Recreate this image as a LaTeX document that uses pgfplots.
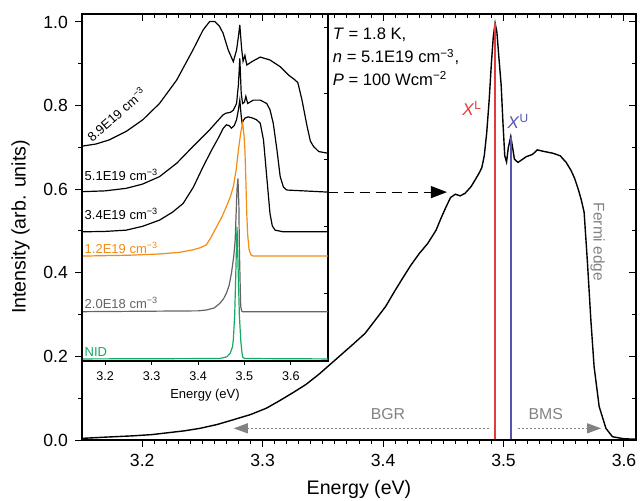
\documentclass[border=0pt]{standalone}
\usepackage{pgfplots}
\pgfplotsset{compat=1.18}
\usepackage{fontspec}
\setmainfont{Liberation Sans}
\usetikzlibrary{arrows.meta}

\definecolor{cred}{RGB}{225,60,60}
\definecolor{cblue}{RGB}{85,85,175}
\definecolor{corange}{RGB}{242,140,20}
\definecolor{cgreen}{RGB}{20,170,100}
\definecolor{cdgray}{RGB}{100,100,100}
\definecolor{cgray}{RGB}{130,130,130}

\pgfplotsset{
  frame/.style={
    scale only axis,
    axis line style={line width=0.6pt},
    tick style={line width=0.5pt, black},
    /pgf/number format/assume math mode=true,
  },
}

\begin{document}
\begin{tikzpicture}
% main spectrum
\begin{axis}[
  frame, name=main,
  width=277pt, height=213pt,
  xmin=3.15, xmax=3.61, ymin=0, ymax=1.019,
  xtick={3.2,3.3,3.4,3.5,3.6}, minor x tick num=9,
  ytick={0,0.2,0.4,0.6,0.8,1.0}, minor y tick num=1,
  xtick pos=left, ytick pos=left, tick align=outside,
  major tick length=3.5pt, minor tick length=1.8pt,
  xticklabel style={/pgf/number format/.cd, fixed, fixed zerofill, precision=1},
  yticklabel style={/pgf/number format/.cd, fixed, fixed zerofill, precision=1},
  ticklabel style={font=\fontsize{8.8}{10}\selectfont},
  label style={font=\fontsize{9.8}{11}\selectfont},
  xlabel={Energy (eV)}, ylabel={Intensity (arb. units)},
]
\addplot[black, line width=0.7pt] coordinates {
(3.150,0.004)(3.170,0.007)(3.192,0.010)(3.208,0.013)(3.220,0.017)(3.235,0.022)
(3.248,0.028)(3.262,0.037)(3.275,0.048)(3.290,0.061)(3.303,0.076)(3.314,0.094)
(3.325,0.113)(3.336,0.133)(3.347,0.158)(3.362,0.196)(3.375,0.229)(3.385,0.255)
(3.393,0.285)(3.402,0.319)(3.410,0.358)(3.416,0.386)(3.423,0.418)(3.430,0.446)
(3.437,0.470)(3.444,0.502)(3.448,0.530)(3.452,0.556)(3.456,0.580)(3.460,0.588)
(3.464,0.584)(3.468,0.590)(3.473,0.606)(3.477,0.625)(3.480,0.640)(3.482,0.652)
(3.484,0.680)(3.486,0.734)(3.488,0.810)(3.490,0.905)(3.4915,0.965)(3.493,0.997)
(3.4945,0.975)(3.496,0.920)(3.498,0.850)(3.4995,0.760)(3.501,0.680)(3.5025,0.665)
(3.504,0.700)(3.506,0.726)(3.5075,0.700)(3.509,0.672)(3.512,0.664)(3.516,0.672)
(3.519,0.678)(3.524,0.683)(3.528,0.694)(3.534,0.690)(3.541,0.686)(3.547,0.680)
(3.552,0.664)(3.556,0.645)(3.559,0.626)(3.562,0.600)(3.5645,0.575)(3.5669,0.545)
(3.5697,0.423)(3.5725,0.287)(3.5752,0.175)(3.5794,0.080)(3.585,0.028)(3.5904,0.008)
(3.600,0.003)(3.610,0.002)
};
\addplot[cred, line width=0.7pt] coordinates {(3.4929,0)(3.4929,0.997)};
\addplot[cblue, line width=0.7pt] coordinates {(3.5061,0)(3.5061,0.726)};

\node[cred, font=\fontsize{8.5}{10}\selectfont] at (axis cs:3.474,0.793) {\textit{X}\textsuperscript{L}};
\node[cblue, font=\fontsize{8.5}{10}\selectfont] at (axis cs:3.5124,0.762) {\textit{X}\textsuperscript{U}};
\node[anchor=west, font=\fontsize{8.3}{10}\selectfont, inner sep=0pt] at (axis cs:3.358,0.969) {\textit{T} = 1.8 K,};
\node[anchor=west, font=\fontsize{8.3}{10}\selectfont, inner sep=0pt] at (axis cs:3.358,0.916) {\textit{n} = 5.1E19 cm\textsuperscript{−3},};
\node[anchor=west, font=\fontsize{8.3}{10}\selectfont, inner sep=0pt] at (axis cs:3.358,0.864) {\textit{P} = 100 Wcm\textsuperscript{−2}};

\draw[black, line width=0.6pt, dash pattern=on 5pt off 3pt, -{Triangle[length=8pt,width=6pt]}]
  (axis cs:3.354,0.593) -- (axis cs:3.453,0.593);
\draw[cgray, line width=0.5pt, dash pattern=on 1pt off 1pt, -{Triangle[length=7pt,width=5pt]}]
  (axis cs:3.488,0.028) -- (axis cs:3.276,0.028);
\draw[cgray, line width=0.5pt, dash pattern=on 1pt off 1pt, -{Triangle[length=7pt,width=5pt]}]
  (axis cs:3.512,0.028) -- (axis cs:3.581,0.028);
\node[cgray, font=\fontsize{7.9}{9}\selectfont] at (axis cs:3.404,0.062) {BGR};
\node[cgray, font=\fontsize{7.9}{9}\selectfont] at (axis cs:3.535,0.062) {BMS};
\node[cgray, font=\fontsize{7.7}{9}\selectfont, rotate=-90] at (axis cs:3.578,0.474) {Fermi edge};

\coordinate (bbl) at (rel axis cs:-0.148,-0.1408);
\coordinate (btr) at (rel axis cs:1.0126,1.0329);
\end{axis}

% inset: doping series
\begin{axis}[
  frame,
  at={(main.north west)}, anchor=north west,
  width=123pt, height=173.5pt,
  xmin=3.15, xmax=3.68, ymin=0.189, ymax=1.019,
  xtick={3.2,3.3,3.4,3.5,3.6},
  ytick={0.351,0.51,0.67,0.828,0.986}, yticklabels={},
  xtick pos=left, ytick pos=right, tick align=outside,
  major tick length=2pt,
  ytick style={xshift=-2pt},
  xticklabel style={/pgf/number format/.cd, fixed, fixed zerofill, precision=1},
  ticklabel style={font=\fontsize{6.3}{7}\selectfont},
  xlabel={Energy (eV)},
  xlabel style={font=\fontsize{6.5}{7}\selectfont, yshift=3pt},
  axis background/.style={fill=white},
]
\addplot[black, line width=0.6pt] coordinates {
(3.150,0.703)(3.180,0.708)(3.209,0.718)(3.245,0.738)(3.281,0.766)(3.317,0.805)
(3.354,0.861)(3.389,0.933)(3.411,0.981)(3.425,1.001)(3.436,1.001)(3.446,0.990)
(3.454,0.973)(3.465,0.933)(3.476,0.905)(3.483,0.933)(3.487,0.965)(3.490,0.993)
(3.494,0.935)(3.497,0.906)(3.501,0.920)(3.505,0.897)(3.516,0.905)(3.534,0.916)
(3.555,0.909)(3.577,0.893)(3.595,0.873)(3.607,0.863)(3.615,0.855)(3.624,0.813)
(3.635,0.750)(3.642,0.715)(3.649,0.702)(3.660,0.690)(3.680,0.686)
};
\addplot[black, line width=0.6pt] coordinates {
(3.150,0.594)(3.200,0.596)(3.245,0.602)(3.280,0.612)(3.317,0.630)(3.354,0.662)
(3.389,0.702)(3.425,0.742)(3.454,0.778)(3.461,0.782)(3.470,0.784)(3.476,0.789)
(3.483,0.805)(3.487,0.850)(3.490,0.913)(3.493,0.830)(3.496,0.805)(3.500,0.808)
(3.503,0.822)(3.507,0.805)(3.519,0.813)(3.534,0.813)(3.548,0.805)(3.555,0.790)
(3.562,0.758)(3.570,0.694)(3.577,0.630)(3.584,0.605)(3.591,0.598)(3.680,0.593)
};
\addplot[black, line width=0.6pt] coordinates {
(3.150,0.498)(3.200,0.499)(3.245,0.502)(3.280,0.511)(3.317,0.526)(3.345,0.545)
(3.368,0.566)(3.390,0.605)(3.411,0.654)(3.430,0.695)(3.445,0.725)(3.454,0.745)
(3.461,0.754)(3.467,0.752)(3.472,0.746)(3.478,0.752)(3.483,0.766)(3.487,0.790)
(3.490,0.813)(3.493,0.775)(3.495,0.758)(3.498,0.765)(3.501,0.770)(3.508,0.773)
(3.518,0.770)(3.526,0.766)(3.534,0.758)(3.541,0.718)(3.548,0.630)(3.555,0.542)
(3.560,0.512)(3.566,0.502)(3.584,0.498)(3.680,0.498)
};
\addplot[corange, line width=0.6pt] coordinates {
(3.150,0.440)(3.250,0.442)(3.317,0.445)(3.360,0.449)(3.389,0.455)(3.405,0.460)
(3.418,0.467)(3.428,0.485)(3.440,0.510)(3.451,0.533)(3.461,0.558)(3.470,0.583)
(3.476,0.606)(3.482,0.645)(3.487,0.694)(3.492,0.735)(3.496,0.758)(3.499,0.730)
(3.501,0.694)(3.503,0.622)(3.505,0.540)(3.507,0.490)(3.510,0.455)(3.514,0.443)
(3.519,0.440)(3.680,0.440)
};
\addplot[cdgray, line width=0.6pt] coordinates {
(3.150,0.307)(3.400,0.309)(3.418,0.311)(3.435,0.316)(3.447,0.327)(3.455,0.338)
(3.461,0.351)(3.467,0.370)(3.472,0.399)(3.477,0.440)(3.480,0.478)(3.482,0.540)
(3.484,0.600)(3.486,0.626)(3.488,0.560)(3.489,0.462)(3.491,0.360)(3.492,0.319)
(3.494,0.309)(3.496,0.307)(3.680,0.307)
};
\addplot[cgreen, line width=0.6pt] coordinates {
(3.150,0.194)(3.447,0.195)(3.462,0.199)(3.469,0.207)(3.474,0.222)(3.476,0.239)
(3.479,0.300)(3.481,0.383)(3.483,0.470)(3.484,0.510)(3.485,0.470)(3.487,0.383)
(3.489,0.300)(3.492,0.239)(3.494,0.215)(3.496,0.199)(3.500,0.195)(3.680,0.194)
};
\node[rotate=41, font=\fontsize{6.5}{7}\selectfont] at (axis cs:3.224,0.780) {8.9E19 cm\textsuperscript{−3}};
\node[anchor=west, inner sep=0pt, font=\fontsize{6.5}{7}\selectfont] at (axis cs:3.155,0.634) {5.1E19 cm\textsuperscript{−3}};
\node[anchor=west, inner sep=0pt, font=\fontsize{6.5}{7}\selectfont] at (axis cs:3.155,0.540) {3.4E19 cm\textsuperscript{−3}};
\node[anchor=west, inner sep=0pt, corange, font=\fontsize{6.5}{7}\selectfont] at (axis cs:3.155,0.460) {1.2E19 cm\textsuperscript{−3}};
\node[anchor=west, inner sep=0pt, cdgray, font=\fontsize{6.5}{7}\selectfont] at (axis cs:3.155,0.327) {2.0E18 cm\textsuperscript{−3}};
\node[anchor=west, inner sep=0pt, cgreen, font=\fontsize{6.5}{7}\selectfont] at (axis cs:3.155,0.211) {NID};
\end{axis}

% inward ticks on top and right of the main frame
\begin{axis}[
  frame,
  at={(main.south west)}, anchor=south west,
  width=277pt, height=213pt,
  xmin=3.15, xmax=3.61, ymin=0, ymax=1.019,
  xtick={3.2,3.3,3.4,3.5,3.6}, minor x tick num=9,
  ytick={0,0.2,0.4,0.6,0.8,1.0}, minor y tick num=1,
  xtick pos=right, ytick pos=right, tick align=inside,
  major tick length=3.5pt, minor tick length=1.8pt,
  xticklabels={}, yticklabels={},
]
\end{axis}

\pgfresetboundingbox
\path[use as bounding box] (bbl) rectangle (btr);
\end{tikzpicture}
\end{document}
